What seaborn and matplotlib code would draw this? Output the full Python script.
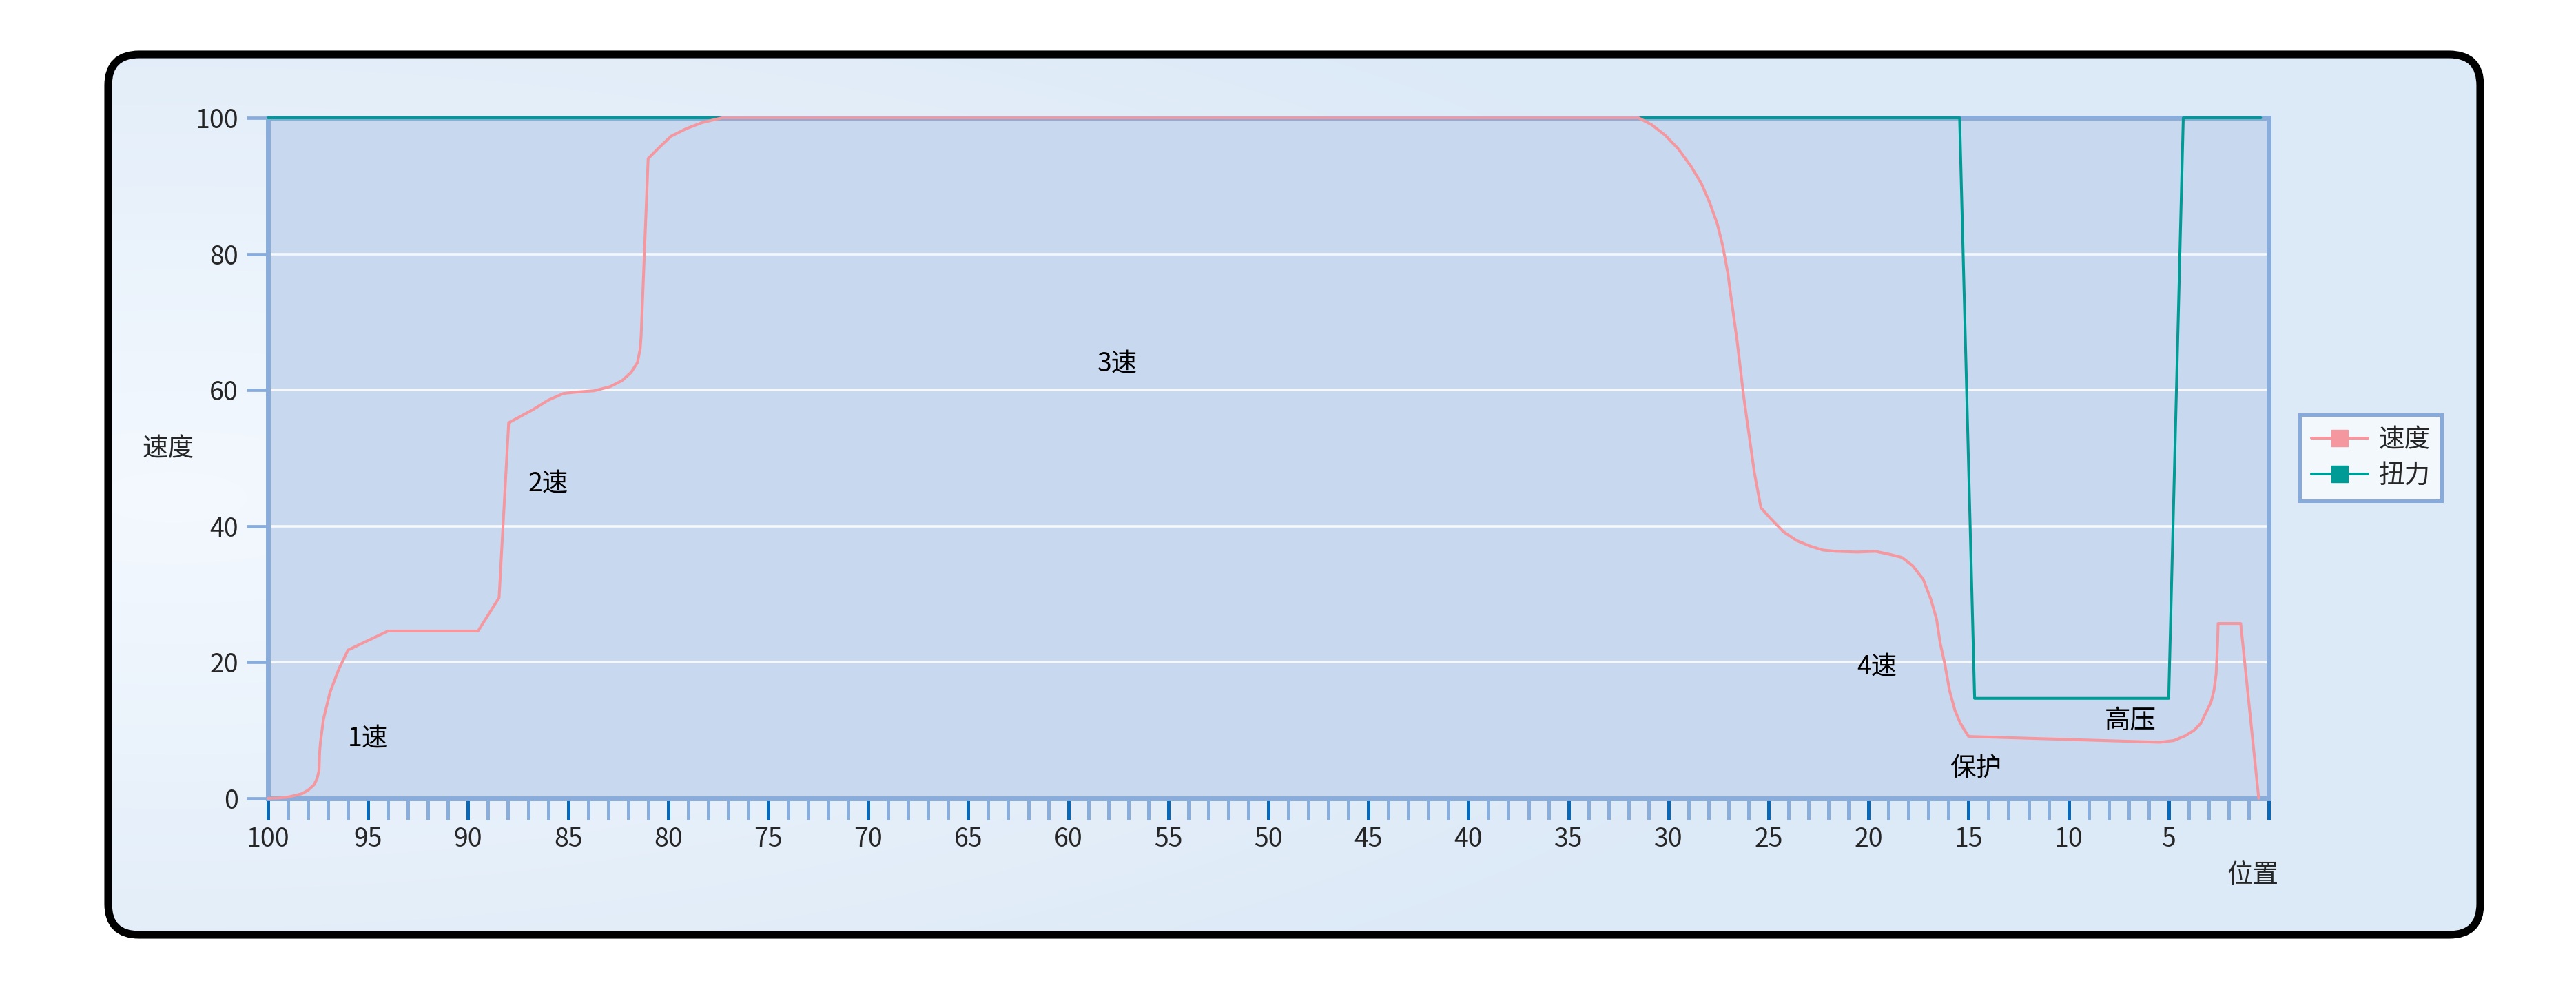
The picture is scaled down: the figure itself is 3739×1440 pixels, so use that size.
import numpy as np
import pandas as pd
import matplotlib
matplotlib.use("Agg")
import matplotlib.pyplot as plt
import matplotlib.ticker as ticker
from matplotlib.patches import FancyBboxPatch
from matplotlib.lines import Line2D
import seaborn as sns

# speed curve (速度), position runs from 100 down to 0
speed_pos = [100, 99.5, 99.1, 98.7, 98.3, 98.0, 97.7, 97.55, 97.45, 97.42, 97.38,
             97.23, 96.9, 96.46, 96.0, 94.0, 89.5,
             88.45, 87.97, 86.77, 86.0, 85.23, 84.6, 83.7, 82.9, 82.3, 81.85,
             81.54, 81.4, 81.35, 81.0, 80.46, 79.85, 79.1, 78.3, 77.3,
             31.5, 30.85, 30.19, 29.53, 28.88, 28.35, 27.95, 27.56, 27.29, 27.03,
             26.9, 26.57, 26.24, 25.71, 25.38, 24.92, 24.26, 23.6, 22.95, 22.29,
             21.63, 20.57, 19.65, 18.86, 18.33, 17.8, 17.27, 16.88, 16.6, 16.42,
             16.2, 15.95, 15.68, 15.42, 15.2, 15.0,
             5.45, 4.74, 4.17, 3.74, 3.4, 3.17, 2.89, 2.74, 2.63, 2.6, 2.56, 2.53,
             1.4, 0.5]
speed_val = [0, 0.05, 0.15, 0.4, 0.7, 1.2, 2.0, 2.9, 4.1, 6.8, 8.2,
             11.6, 15.6, 19.0, 21.8, 24.6, 24.6,
             29.5, 55.2, 57.1, 58.5, 59.5, 59.7, 59.9, 60.5, 61.4, 62.6,
             64.0, 66.0, 68.0, 94.0, 95.6, 97.3, 98.4, 99.3, 100,
             100, 99.0, 97.5, 95.5, 92.9, 90.3, 87.6, 84.4, 81.2, 77.1,
             74.2, 67.2, 59.0, 47.9, 42.7, 41.2, 39.2, 37.9, 37.1, 36.5,
             36.3, 36.2, 36.3, 35.8, 35.4, 34.2, 32.2, 29.2, 26.3, 22.8,
             19.9, 15.8, 12.9, 11.1, 10.0, 9.1,
             8.25, 8.5, 9.2, 10.0, 11.0, 12.4, 14.1, 15.8, 18.2, 20.0, 22.6, 25.7,
             25.7, 0]

# torque curve (扭力)
torque_pos = [100, 15.45, 14.7, 5.0, 4.27, 0.4]
torque_val = [100, 100, 14.7, 14.7, 100, 100]

# stage annotations
stage_labels = ["1速", "2速", "3速", "4速", "保护", "高压"]
stage_pos = [95.0, 86.0, 57.55, 19.57, 14.64, 6.9]
stage_val = [8.7, 46.2, 63.8, 19.3, 4.4, 11.4]

series_names = ["速度", "扭力"]
x_major = list(range(100, -1, -5))
x_labels = [str(v) for v in x_major[:-1]] + [""]
y_ticks = [0, 20, 40, 60, 80, 100]

PINK = "#f4979f"
TEAL = "#009b95"
SPINE = "#89acdb"

sns.set_style("white")
plt.rcParams["font.family"] = ["Noto Sans CJK SC", "DejaVu Sans"]

W, H = 3739, 1440
fig = plt.figure(figsize=(W / 100, H / 100), dpi=100)
fig.patch.set_facecolor("white")

# rounded panel with a soft gradient
bg = fig.add_axes([0, 0, 1, 1], zorder=0)
bg.set_xlim(0, W)
bg.set_ylim(H, 0)
bg.axis("off")
clip = FancyBboxPatch((157, 79), 3443, 1278, boxstyle="round,pad=0,rounding_size=45",
                      facecolor="none", edgecolor="none")
bg.add_patch(clip)
yy, xx = np.mgrid[0:H:4, 0:W:4]
d = np.sqrt(((xx - 250) / 2600.0) ** 2 + ((yy - 720) / 900.0) ** 2)
d = np.clip(d, 0, 1)
c0 = np.array([0.955, 0.975, 0.998])
c1 = np.array([0.865, 0.915, 0.968])
img = c0[None, None, :] * (1 - d[..., None]) + c1[None, None, :] * d[..., None]
im = bg.imshow(img, extent=(0, W, H, 0), aspect="auto", interpolation="bilinear")
im.set_clip_path(clip)
border = FancyBboxPatch((157, 79), 3443, 1278, boxstyle="round,pad=0,rounding_size=45",
                        facecolor="none", edgecolor="black", linewidth=8, zorder=3)
bg.add_patch(border)

# main axes
ax = fig.add_axes([389 / W, 1 - 1159 / H, 2904 / W, 988 / H], zorder=2)
ax.set_facecolor("#c8d8ef")

df_torque = pd.DataFrame({"位置": torque_pos, "值": torque_val})
df_speed = pd.DataFrame({"位置": speed_pos, "值": speed_val})
sns.lineplot(data=df_torque, x="位置", y="值", sort=False, estimator=None,
             color=TEAL, linewidth=2.9, ax=ax, zorder=4)
sns.lineplot(data=df_speed, x="位置", y="值", sort=False, estimator=None,
             color=PINK, linewidth=2.9, ax=ax, zorder=5)
for line in ax.lines:
    line.set_clip_on(False)
    line.set_solid_joinstyle("round")

ax.set_xlim(100, 0)
ax.set_ylim(0, 100)
ax.set_xlabel("")
ax.set_ylabel("")

ax.set_xticks(x_major)
ax.set_xticklabels(x_labels)
ax.xaxis.set_minor_locator(ticker.MultipleLocator(1))
ax.set_yticks(y_ticks)
ax.tick_params(axis="x", which="both", bottom=True, top=False)
ax.tick_params(axis="y", which="both", left=True, right=False)
ax.tick_params(axis="x", which="major", direction="out", length=22, width=3.6,
               color="#0767b9", pad=7, labelsize=27)
ax.tick_params(axis="x", which="minor", direction="out", length=22, width=3.6,
               color="#8aaedc")
ax.tick_params(axis="y", which="major", direction="out", length=22, width=3.4,
               color="#88acdc", pad=9, labelsize=27)

ax.yaxis.grid(True, color="white", linewidth=2.6, alpha=0.85)
ax.xaxis.grid(False)
ax.set_axisbelow(True)
for s in ax.spines.values():
    s.set_color(SPINE)
    s.set_linewidth(5)
    s.set_visible(True)

for lab, p, v in zip(stage_labels, stage_pos, stage_val):
    ax.text(p, v, lab, ha="center", va="center", fontsize=27, color="black", zorder=6)

fig.text(244 / W, 1 - 652 / H, "速度", ha="center", va="center", fontsize=27)
fig.text(3270 / W, 1 - 1271 / H, "位置", ha="center", va="center", fontsize=27)

handles = [Line2D([], [], color=c, linewidth=2.9, marker="s", markersize=17,
                  markeredgecolor=c) for c in (PINK, TEAL)]
leg = ax.legend(handles, series_names, loc="upper left",
                bbox_to_anchor=(3338 / W, 1 - 602 / H), bbox_transform=fig.transFigure,
                frameon=True, fancybox=False, fontsize=27, handlelength=2.2,
                handletextpad=0.4, labelspacing=0.36, borderpad=0.45,
                borderaxespad=0, framealpha=1)
leg.get_frame().set_edgecolor("#86aadb")
leg.get_frame().set_linewidth(3.6)
leg.get_frame().set_facecolor("#f3f8fd")

fig.savefig("out.png", dpi=100)
